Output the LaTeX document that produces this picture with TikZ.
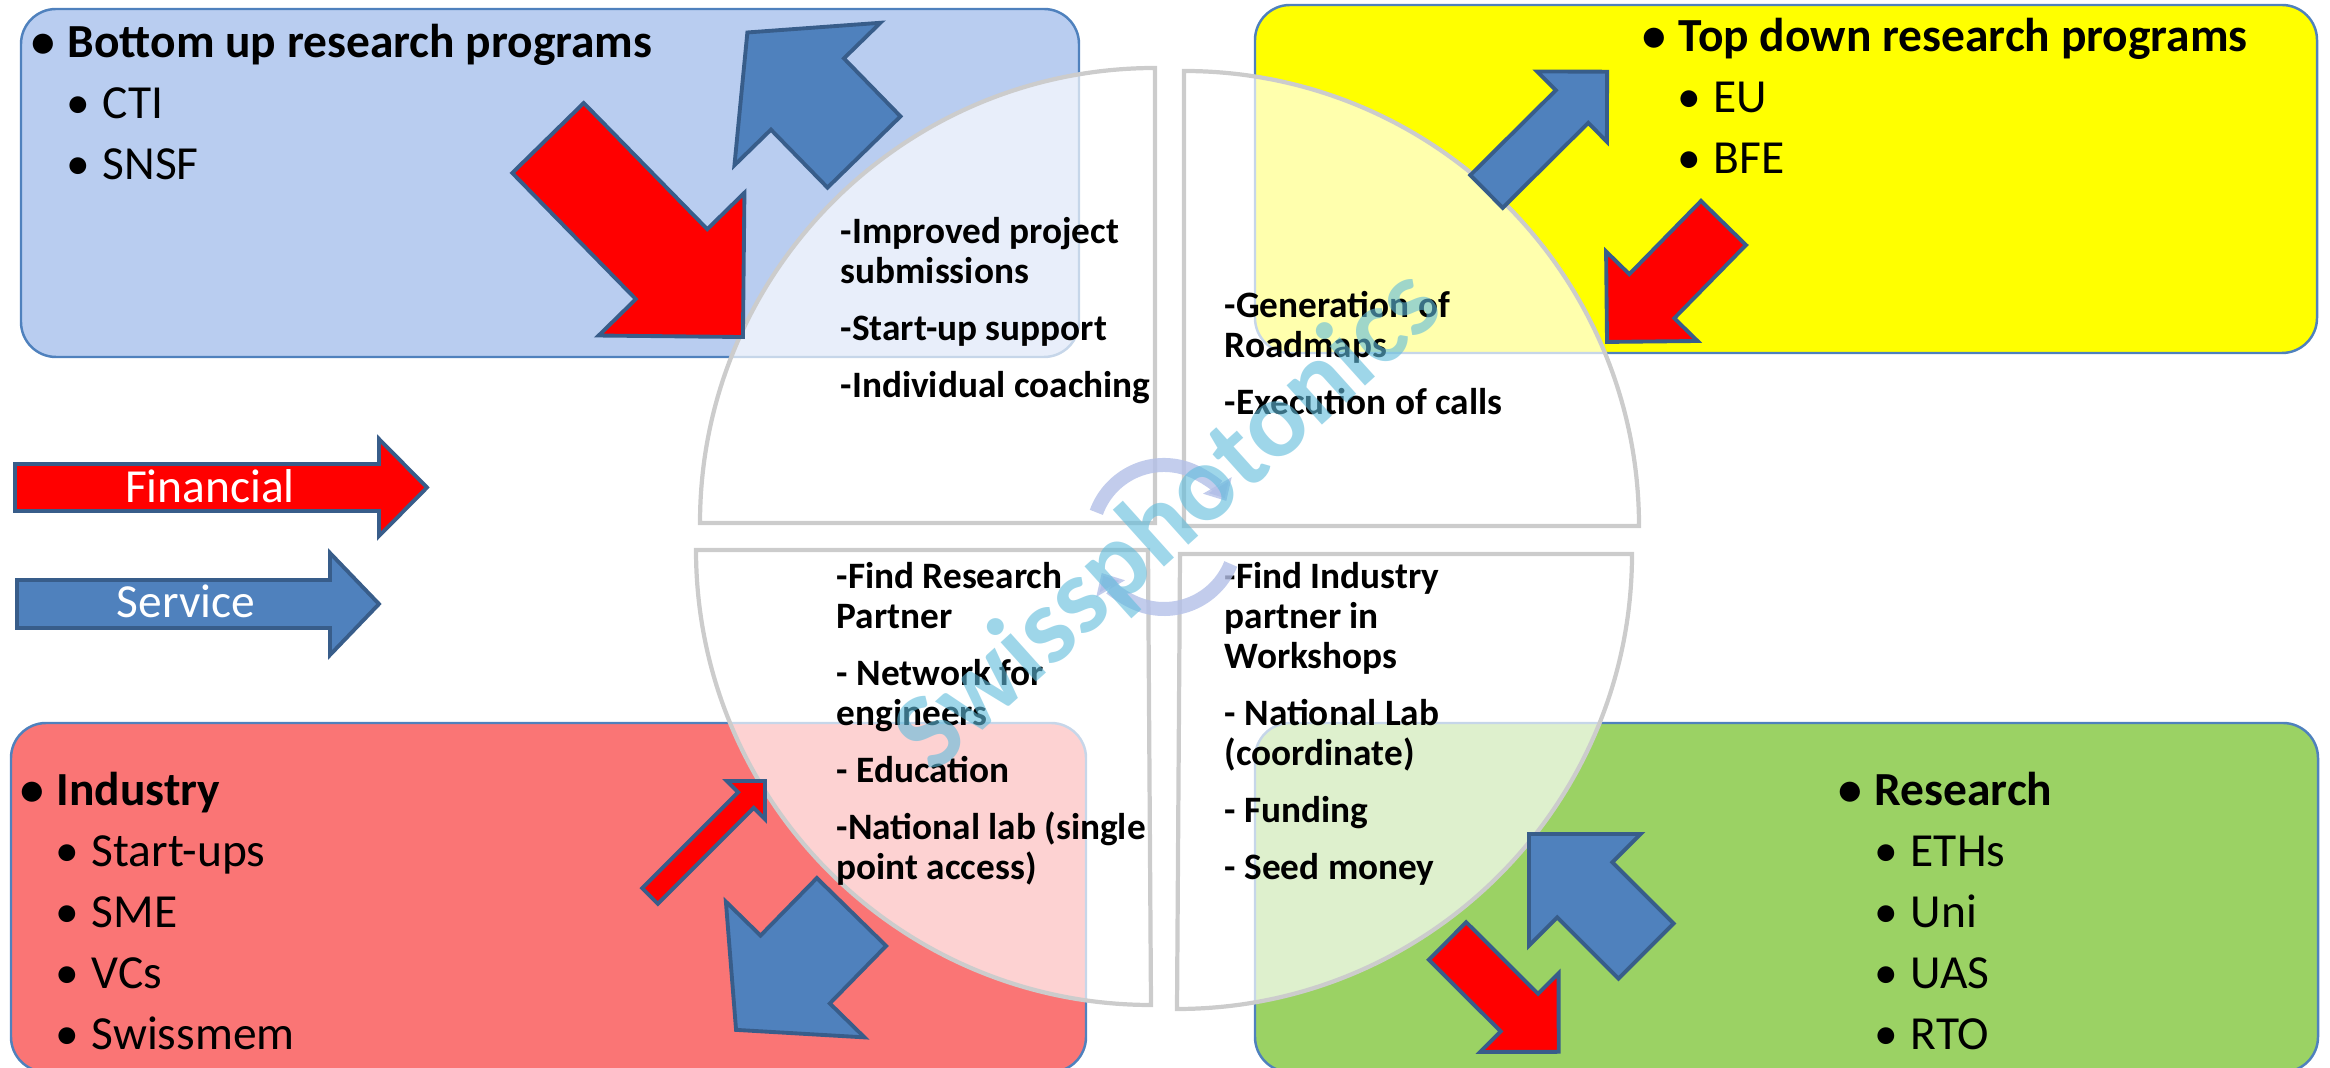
\documentclass[tikz,border=0pt]{standalone}
\usepackage{fontspec}
\setmainfont{Carlito}
\usetikzlibrary{arrows.meta}

\definecolor{boxblue}{RGB}{185,205,240}
\definecolor{boxyellow}{RGB}{255,255,0}
\definecolor{boxred}{RGB}{250,117,117}
\definecolor{boxgreen}{RGB}{155,210,100}
\definecolor{boxedge}{RGB}{79,129,189}
\definecolor{arrowred}{RGB}{255,0,0}
\definecolor{arrowblue}{RGB}{79,129,189}
\definecolor{arrowedge}{RGB}{56,93,138}
\definecolor{ringblue}{RGB}{180,192,232}
\definecolor{wmblue}{RGB}{95,188,220}

\newcommand{\itembullet}{\llap{\textbullet\hspace{0.13cm}}}

\begin{document}
\begin{tikzpicture}[x=0.01cm,y=-0.01cm]

\tikzset{box/.style = {draw=boxedge, line width=0.7pt, rounded corners=0.35cm}}
\tikzset{quarter/.style = {draw=black!20, line width=1.2pt, fill=white, fill opacity=0.68}}
\tikzset{flow/.style = {draw=arrowedge, line width=1.1pt, line join=miter}}
\tikzset{money/.style = {flow, fill=arrowred}}
\tikzset{helpflow/.style = {flow, fill=arrowblue}}
\tikzset{boxtext/.style = {anchor=base west, inner sep=0pt, align=left, font=\fontsize{13.5}{17.4}\selectfont}}
\tikzset{note/.style = {anchor=base west, inner sep=0pt, align=left, font=\fontsize{10.6}{11.4}\selectfont\bfseries}}
\tikzset{legend/.style = {anchor=base, inner sep=0pt, text=white, font=\fontsize{13.5}{16}\selectfont}}
\tikzset{ring/.style = {draw=ringblue, line width=0.14cm, draw opacity=0.8, -{Triangle[width=0.32cm,length=0.18cm]}}}
\tikzset{pics/blockarrow/.style n args={5}{code={
  \path[#1] (0,-#3) -- (#2-#5,-#3) -- (#2-#5,-#4) -- (#2,0) -- (#2-#5,#4) -- (#2-#5,#3) -- (0,#3) -- cycle;}}}

\useasboundingbox (0,0) rectangle (2330,1068);

% boxes
\draw[box, fill=boxblue] (21,9) rectangle (1079,357);
\draw[box, fill=boxyellow] (1255,5) rectangle (2317,353);
\draw[box, fill=boxred] (11,723) rectangle (1086,1072);
\draw[box, fill=boxgreen] (1255,723) rectangle (2318,1072);

% circle quarters
\draw[quarter] (1155,523) -- ++(-455,0) arc (180:270:455) -- cycle;
\draw[quarter] (1184,526) -- ++(0,-455) arc (270:360:455) -- cycle;
\draw[quarter] (1148,550) -- ++(-452,0) arc (180:90:455) -- cycle;
\draw[quarter] (1180,554) -- ++(452,0) arc (0:90:455) -- cycle;

% block arrows
\pic[rotate=-45.6] at (548,138) {blockarrow={money}{278.6}{50}{102}{102}};
\pic[rotate=134.3] at (864,152) {blockarrow={helpflow}{167}{51}{102}{86}};
\pic[rotate=44.8] at (1486.5,191.5) {blockarrow={helpflow}{170}{23}{49.5}{49.5}};
\pic[rotate=-134.4] at (1723.5,223) {blockarrow={money}{166.5}{31.5}{64}{64}};
\pic[rotate=45] at (650,896) {blockarrow={money}{162.6}{11}{27}{27}};
\pic[rotate=-134.4] at (851.5,912) {blockarrow={helpflow}{165}{48.5}{97}{84.5}};
\pic[rotate=135] at (1646,951) {blockarrow={helpflow}{165.5}{39}{79}{79}};
\pic[rotate=-44.9] at (1447.5,941) {blockarrow={money}{157}{26.5}{55.5}{55.5}};

% legend
\pic at (15,487.5) {blockarrow={money}{412}{23.5}{48.5}{48}};
\pic at (17,604) {blockarrow={helpflow}{362}{24}{51}{49}};
\node[legend] (financial) at (210,503) {Financial};
\node[legend] (service) at (186,618) {Service};

% box texts (anchored on their last line)
\node[boxtext] (bottomup) at (67,180) {\textbf{\itembullet Bottom up research programs}\\
  \hspace*{0.35cm}\itembullet CTI\\
  \hspace*{0.35cm}\itembullet SNSF};
\node[boxtext] (topdown) at (1678,174) {\textbf{\itembullet Top down research programs}\\
  \hspace*{0.35cm}\itembullet EU\\
  \hspace*{0.35cm}\itembullet BFE};
\node[boxtext] (industry) at (56,1050) {\textbf{\itembullet Industry}\\
  \hspace*{0.35cm}\itembullet Start-ups\\
  \hspace*{0.35cm}\itembullet SME\\
  \hspace*{0.35cm}\itembullet VCs\\
  \hspace*{0.35cm}\itembullet Swissmem};
\node[boxtext] (research) at (1874,1050) {\textbf{\itembullet Research}\\
  \hspace*{0.36cm}\itembullet ETHs\\
  \hspace*{0.36cm}\itembullet Uni\\
  \hspace*{0.36cm}\itembullet UAS\\
  \hspace*{0.36cm}\itembullet RTO};

% quarter texts
\node[note] (tlnote) at (840,398) {-Improved project\\submissions\\[0.17cm]-Start-up support\\[0.17cm]-Individual coaching};
\node[note] (trnote) at (1224,415) {-Generation of\\Roadmaps\\[0.17cm]-Execution of calls};
\node[note] (blnote) at (836,880) {-Find Research\\Partner\\[0.17cm]- Network for\\engineers\\[0.17cm]- Education\\[0.17cm]-National lab (single\\point access)};
\node[note] (brnote) at (1224,880) {-Find Industry\\partner in\\Workshops\\[0.17cm]- National Lab\\(coordinate)\\[0.17cm]- Funding\\[0.17cm]- Seed money};

% cycle arrows
\coordinate (hub) at (1164,537);
\draw[ring] (hub) ++(-160:72) arc (-160:-30:72);
\draw[ring] (hub) ++(22:72) arc (22:150:72);

% watermark
\node[rotate=42, text=wmblue, text opacity=0.6, font=\fontsize{31}{31}\selectfont\bfseries] (watermark) at (1170,522) {Swissphotonics};

\end{tikzpicture}
\end{document}
